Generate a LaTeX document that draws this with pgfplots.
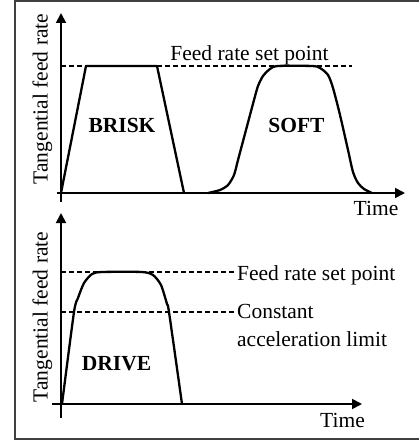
\documentclass[border=0pt]{standalone}
\usepackage{fontspec}
\setmainfont{Liberation Serif}
\usepackage{pgfplots}
\pgfplotsset{compat=1.18}
\usetikzlibrary{arrows.meta}
\newcommand\fs{\fontsize{21.5}{24}\selectfont}
\begin{document}
\begin{tikzpicture}[x=1pt,y=1pt]
\useasboundingbox (0,0) rectangle (418,-441);
\draw[line width=1.5pt, black!75] (421,-1) -- (15,-1) -- (15,-439) -- (421,-439);
\pgfplotsset{panel/.style={axis lines=middle, x=1pt, y=1pt, enlargelimits=false,
  xtick=\empty, ytick=\empty, clip=false, anchor=south west,
  axis line style={line width=1.8pt},
  every inner x axis line/.append style={-{Triangle[length=10pt,width=10pt]}},
  every inner y axis line/.append style={-{Triangle[length=10pt,width=10pt]}},
  every axis plot/.append style={line width=2.3pt, black, line join=round},
  xlabel={}, ylabel={}}}
\begin{axis}[panel, at={(57pt,-202pt)}, xmin=-4, xmax=344, ymin=-9, ymax=180]
\addplot[line width=1.3pt, dash pattern=on 5pt off 3pt] coordinates {(0,127) (291,127)};
\addplot[sharp plot] coordinates {(0,0) (25,127) (96,127) (123,0)};
\addplot[smooth, tension=0.45] coordinates {(147,0) (159,3) (167,8) (173,18) (177,33) (185,63) (193,93) (197,107) (202,117) (209,124) (217,127) (251,127) (259,125) (267,118) (272,105) (279,78) (287,43) (292,21) (297,10) (303,4) (311,0)};
\node[font=\fs, anchor=base, inner sep=0pt] at (axis cs:188.5,132) {Feed rate set point};
\node[font=\fs\bfseries, anchor=base, inner sep=0pt] at (axis cs:61,61) {BRISK};
\node[font=\fs\bfseries, anchor=base, inner sep=0pt] at (axis cs:235.5,61) {SOFT};
\node[font=\fs, anchor=base, inner sep=0pt] at (axis cs:315,-22) {Time};
\node[font=\fs, rotate=90, anchor=center, inner sep=0pt] at (axis cs:-18.5,94) {Tangential feed rate};
\end{axis}
\begin{axis}[panel, at={(52pt,-418pt)}, xmin=-9, xmax=301, ymin=-14, ymax=191]
\addplot[line width=1.3pt, dash pattern=on 5pt off 3pt] coordinates {(0,132) (174,132)};
\addplot[line width=1.3pt, dash pattern=on 5pt off 3pt] coordinates {(0,92) (174,92)};
\addplot[smooth, tension=0.4] coordinates {(1,0) (13,92) (17,106) (23,121) (31,130) (41,132) (81,132) (92,129) (100,119) (106,100) (108,92) (121,0)};
\node[font=\fs, anchor=base west, inner sep=0pt] at (axis cs:176,124) {Feed rate set point};
\node[font=\fs, anchor=base west, inner sep=0pt] at (axis cs:176,86) {Constant};
\node[font=\fs, anchor=base west, inner sep=0pt] at (axis cs:176,58) {acceleration limit};
\node[font=\fs\bfseries, anchor=base, inner sep=0pt] at (axis cs:55.5,34) {DRIVE};
\node[font=\fs, anchor=base, inner sep=0pt] at (axis cs:281.5,-23) {Time};
\node[font=\fs, rotate=90, anchor=center, inner sep=0pt] at (axis cs:-18.5,87) {Tangential feed rate};
\end{axis}
\end{tikzpicture}
\end{document}
